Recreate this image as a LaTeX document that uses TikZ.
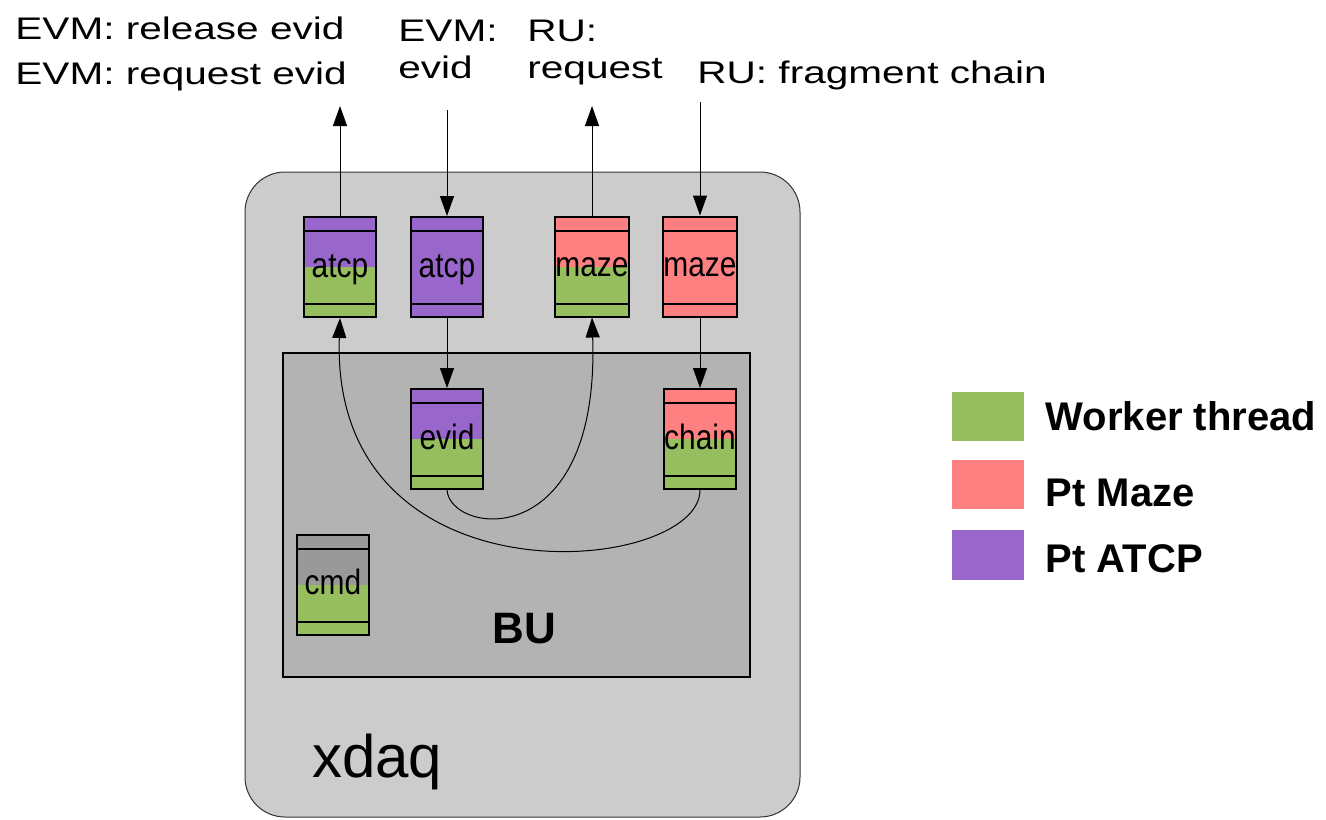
\documentclass[tikz,border=0pt]{standalone}
\usepackage{fontspec}
\setmainfont{Liberation Sans}
\newfontfamily\lblfont[FakeStretch=1.3]{Liberation Sans}
\newfontfamily\modfont[FakeStretch=0.85]{Liberation Sans}
\usetikzlibrary{arrows.meta, positioning}
\definecolor{ptatcp}{HTML}{9966CC}
\definecolor{ptmaze}{HTML}{FF8080}
\definecolor{worker}{HTML}{97BE5E}
\definecolor{cmdgray}{HTML}{999999}
\definecolor{xdaqgray}{HTML}{CCCCCC}
\definecolor{bugray}{HTML}{B3B3B3}
\tikzset{
  module/.style 2 args={draw, line width=1pt, minimum width=36pt, minimum height=50pt, inner sep=0pt,
    text height=10pt, text depth=0pt, font=\modfont\fontsize{17.6}{20}\selectfont,
    path picture={
      \fill[#1] (path picture bounding box.north west) rectangle (path picture bounding box.east);
      \fill[#2] (path picture bounding box.west) rectangle (path picture bounding box.south east);
      \draw[line width=1pt] ([yshift=-7pt]path picture bounding box.north west) -- ([yshift=-7pt]path picture bounding box.north east);
      \draw[line width=1pt] ([yshift=6.5pt]path picture bounding box.south west) -- ([yshift=6.5pt]path picture bounding box.south east);
    }},
  lbl/.style={anchor=north west, inner sep=0pt, align=left, font=\lblfont\fontsize{15.6}{22.5}\selectfont},
  legsq/.style={fill=#1, minimum width=36pt, minimum height=24.5pt, inner sep=0pt},
  leglbl/.style={inner sep=0pt, font=\bfseries\fontsize{20}{24}\selectfont},
  arr/.style={-{Triangle[length=10pt,width=7pt]}, line width=0.5pt},
}

\begin{document}
\begin{tikzpicture}[x=0.5pt, y=-0.5pt]
  \useasboundingbox (0,0) rectangle (1326,819);
  % containers
  \node[draw=black!80, line width=0.5pt, fill=xdaqgray, rounded corners=20pt, minimum width=277.5pt, minimum height=322.5pt] (xdaq) at (522.5,494.5) {};
  \node[draw, line width=1pt, fill=bugray, minimum width=233.5pt, minimum height=162pt] (bu) at (516.5,515) {};
  \node[anchor=base, font=\bfseries\fontsize{22}{26}\selectfont] (buLbl) at (524,643) {BU};
  \node[anchor=base west, font=\fontsize{30}{36}\selectfont] (xdaqLbl) at (305,777) {xdaq};

  % peer transports and application modules
  \node[module={ptatcp}{worker}] (atcpW) at (340,267) {atcp};
  \node[module={ptatcp}{ptatcp}] (atcpP) at (447,267) {atcp};
  \node[module={ptmaze}{worker}] (mazeW) at (592,266.5) {maze};
  \node[module={ptmaze}{ptmaze}] (mazeP) at (700,266.5) {maze};
  \node[module={ptatcp}{worker}] (evid) at (447,439) {evid};
  \node[module={ptmaze}{worker}] (chain) at (700,439) {chain};
  \node[module={cmdgray}{worker}] (cmd) at (333,584.5) {cmd};

  % messages
  \node[lbl] (evmRel) at (15,16) {EVM: release evid\\EVM: request evid};
  \node[lbl] (evmEvid) at (398,20) {EVM:\\[-4pt]evid};
  \node[lbl] (ruReq) at (527,20) {RU:\\[-4pt]request};
  \node[lbl] (ruFrag) at (697,60) {RU: fragment chain};
  \coordinate (relTip) at (340,106);
  \coordinate (evidIn) at (447,110);
  \coordinate (reqTip) at (592,106);
  \coordinate (fragIn) at (700,102);

  \draw[arr] (atcpW.north) -- (relTip);
  \draw[arr] (evidIn) -- (atcpP.north);
  \draw[arr] (mazeW.north) -- (reqTip);
  \draw[arr] (fragIn) -- (mazeP.north);
  \draw[arr] (atcpP.south) -- (evid.north);
  \draw[arr] (mazeP.south) -- (chain.north);
  \draw[arr] (evid.south) .. controls (450,535) and (600,555) .. (mazeW.south);
  \draw[arr] (chain.south) .. controls (700,575) and (330,610) .. (atcpW.south);

  % legend
  \node[legsq=worker] (sqWork) at (988,416.5) {};
  \node[legsq=ptmaze] (sqMaze) at (988,484.5) {};
  \node[legsq=ptatcp, minimum height=25pt] (sqAtcp) at (988,555) {};
  \node[leglbl, right=10.5pt of sqWork] (lgWork) {Worker thread};
  \node[leglbl, right=10.5pt of sqMaze, yshift=-4pt] (lgMaze) {Pt Maze};
  \node[leglbl, right=10.5pt of sqAtcp, yshift=-2pt] (lgAtcp) {Pt ATCP};
\end{tikzpicture}
\end{document}
